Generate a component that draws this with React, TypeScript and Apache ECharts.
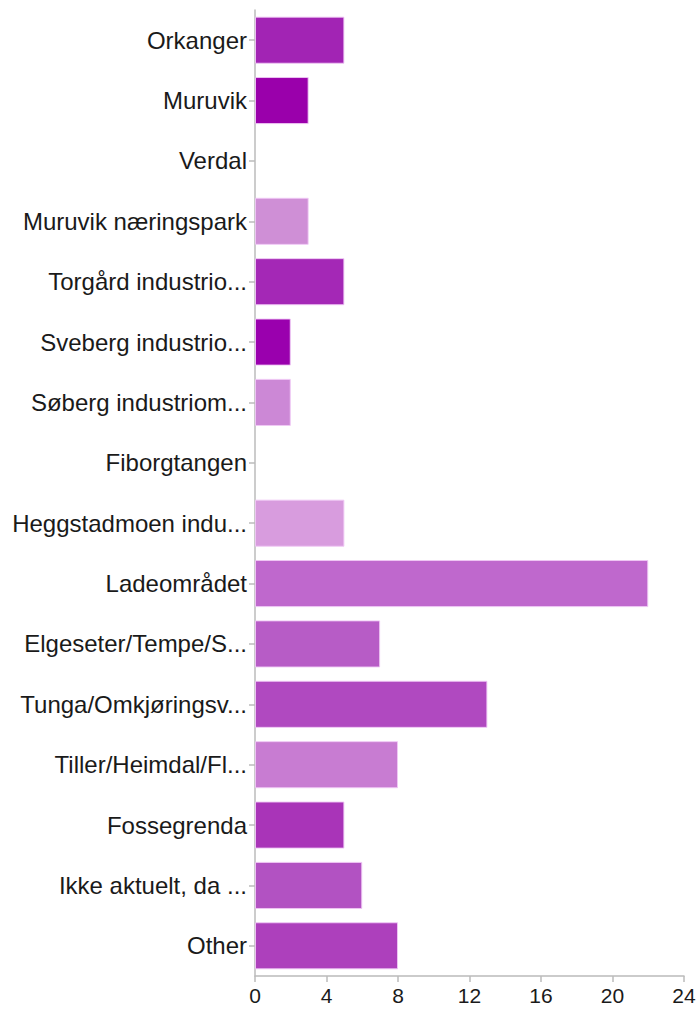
import React, { useEffect, useRef } from "react";
import * as echarts from "echarts";

const categories = [
  "Orkanger",
  "Muruvik",
  "Verdal",
  "Muruvik næringspark",
  "Torgård industrio...",
  "Sveberg industrio...",
  "Søberg industriom...",
  "Fiborgtangen",
  "Heggstadmoen indu...",
  "Ladeområdet",
  "Elgeseter/Tempe/S...",
  "Tunga/Omkjøringsv...",
  "Tiller/Heimdal/Fl...",
  "Fossegrenda",
  "Ikke aktuelt, da ...",
  "Other",
];
const values = [5, 3, 0, 3, 5, 2, 2, 0, 5, 22, 7, 13, 8, 5, 6, 8];
const colors = [
  "#a224b4", "#9a00ab", "#a020b0", "#cf8fd6", "#a428b6", "#9a00ae", "#cc88d6", "#b050c0",
  "#d89cde", "#bf68cd", "#b75cc6", "#b049c0", "#c87cd2", "#a934b8", "#b252c2", "#ad40bc",
];
const xTicks = { min: 0, max: 24, interval: 4 };

export default function App() {
  const ref = useRef<HTMLDivElement>(null);
  useEffect(() => {
    if (!ref.current) return;
    const chart = echarts.init(ref.current, null, { renderer: "svg" });
    const font = "Liberation Sans, Arial, Helvetica, sans-serif";
    chart.setOption({
      animation: false,
      grid: { left: 255, right: 15, top: 10, bottom: 34, containLabel: false },
      xAxis: {
        type: "value",
        min: xTicks.min,
        max: xTicks.max,
        interval: xTicks.interval,
        splitLine: { show: false },
        axisLine: { show: true, lineStyle: { color: "#bbbbbb", width: 1.5 } },
        axisTick: { show: true, length: 6, lineStyle: { color: "#bbbbbb", width: 1.5 } },
        axisLabel: { color: "#1a1a1a", fontSize: 21, fontFamily: font, margin: 9 },
      },
      yAxis: {
        type: "category",
        data: categories,
        inverse: true,
        axisLine: { show: true, lineStyle: { color: "#bbbbbb", width: 1.5 } },
        axisTick: { show: true, length: 6, alignWithLabel: true, lineStyle: { color: "#bbbbbb", width: 1.5 } },
        axisLabel: { color: "#1a1a1a", fontSize: 24, fontFamily: font, margin: 8 },
      },
      series: [
        {
          type: "bar",
          data: values.map((v, i) => ({
            value: v,
            itemStyle: {
              color: colors[i],
              borderColor: v > 0 ? "rgba(240,200,245,0.9)" : "transparent",
              borderWidth: v > 0 ? 1 : 0,
            },
          })),
          barCategoryGap: "22%",
        },
      ],
    });
    return () => chart.dispose();
  }, []);
  return (
    <div
      ref={ref}
      style={{ position: "fixed", left: 0, top: 0, width: 699, height: 1010, background: "#fff" }}
    />
  );
}
